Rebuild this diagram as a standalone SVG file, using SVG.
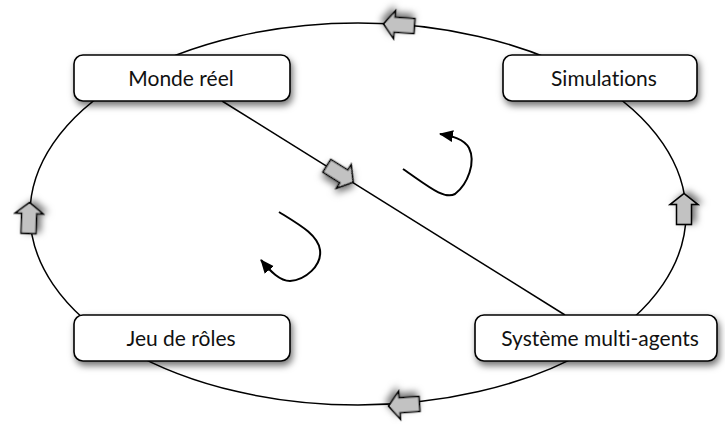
<svg xmlns="http://www.w3.org/2000/svg" width="725" height="424" viewBox="0 0 725 424">
<style>
.box{fill:#ffffff;stroke:#000000;stroke-width:1.6}
.lbl{font-family:Lato,"Open Sans","Liberation Sans",sans-serif;font-size:21px;fill:#111111;text-anchor:middle;dominant-baseline:central;font-variant-ligatures:none;font-feature-settings:"liga" 0,"clig" 0}
.line{fill:none;stroke:#000000;stroke-width:1.5}
.curve{fill:none;stroke:#000000;stroke-width:2}
.barrow{fill:#c2c2c2;stroke:#000000;stroke-width:1.6;stroke-linejoin:miter}
</style>
<defs>
<filter id="sh" x="-30%" y="-30%" width="160%" height="180%">
<feDropShadow dx="2" dy="4" stdDeviation="3.5" flood-color="#000000" flood-opacity="0.55"/>
</filter>
<path id="fat" d="M15.5,0 L4.5,-14 L4.5,-7.5 L-15.5,-7.5 L-15.5,7.5 L4.5,7.5 L4.5,14 Z"/>
<marker id="tri" markerUnits="userSpaceOnUse" markerWidth="16" markerHeight="14" refX="13" refY="6" orient="auto">
<path d="M0,0 L14,6 L0,12 Z" fill="#000000"/>
</marker>
</defs>
<g id="connectors">
<ellipse class="line" cx="358" cy="214" rx="328" ry="191"/>
<line class="line" x1="222" y1="101" x2="565" y2="315"/>
<path class="curve" d="M403,169 C428,186 444,200 455,194 C468,184 476,162 469,148 C464,139 452,136 440,134" marker-end="url(#tri)"/>
<path class="curve" d="M279,212 C300,225 318,235 320,250 C322,266 305,280 290,281 C280,281 271,272 261,260" marker-end="url(#tri)"/>
<use href="#fat" class="barrow" filter="url(#sh)" transform="translate(399,25) rotate(184)"/>
<use href="#fat" class="barrow" filter="url(#sh)" transform="translate(404,405) rotate(176)"/>
<use href="#fat" class="barrow" filter="url(#sh)" transform="translate(29,218) rotate(-88)"/>
<use href="#fat" class="barrow" filter="url(#sh)" transform="translate(684,209) rotate(-90)"/>
<use href="#fat" class="barrow" filter="url(#sh)" transform="translate(340,174) rotate(32)"/>
</g>
<g id="monde-reel">
<rect class="box" filter="url(#sh)" x="74" y="55" width="216" height="46" rx="9"/>
<text class="lbl" x="181" y="77">Monde réel</text>
</g>
<g id="simulations">
<rect class="box" filter="url(#sh)" x="503" y="55" width="194" height="46" rx="9"/>
<text class="lbl" x="604" y="77">Simulations</text>
</g>
<g id="jeu-de-roles">
<rect class="box" filter="url(#sh)" x="74" y="315" width="216" height="46" rx="9"/>
<text class="lbl" x="181" y="337">Jeu de rôles</text>
</g>
<g id="systeme-multi-agents">
<rect class="box" filter="url(#sh)" x="475" y="315" width="242" height="46" rx="9"/>
<text class="lbl" x="600" y="337">Système multi-agents</text>
</g>
</svg>
